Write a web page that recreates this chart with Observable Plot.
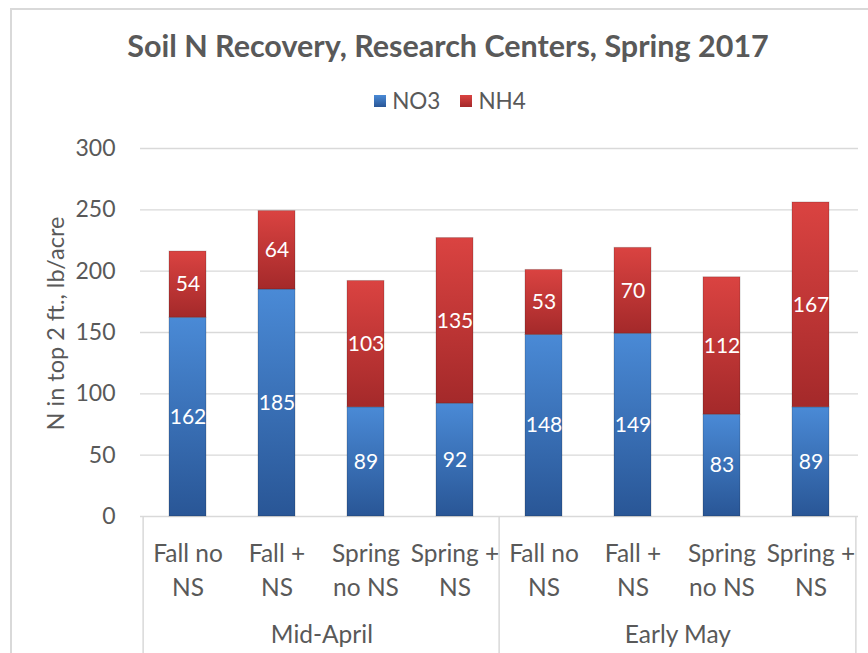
<!DOCTYPE html>
<html>
<head>
<meta charset="utf-8">
<script src="https://cdn.jsdelivr.net/npm/d3@7"></script>
<script src="https://cdn.jsdelivr.net/npm/@observablehq/plot@0.6"></script>
<style>
  html, body { margin: 0; padding: 0; background: #fff; }
  body { width: 868px; height: 653px; position: relative; overflow: hidden; font-family: Lato, "Open Sans", sans-serif; color: #595959; }
  #frame { position: absolute; left: 10px; top: 8px; width: 900px; height: 700px; border-left: 2px solid #d9d9d9; border-top: 2px solid #d9d9d9; box-sizing: border-box; pointer-events: none; }
  #title { position: absolute; left: 0; width: 896px; top: 26px; text-align: center; font-weight: bold; font-size: 30.5px; line-height: 38px; }
  #legend { position: absolute; left: 0; width: 900px; top: 88px; display: flex; justify-content: center; align-items: center; font-size: 22.5px; line-height: 26px; }
  #legend .sw { width: 12px; height: 12px; display: inline-block; margin-right: 6px; }
  #legend .item { display: flex; align-items: center; margin: 0 10px; }
  #chart { position: absolute; left: 0; top: 120px; }
</style>
</head>
<body>
<div id="frame"></div>
<div id="title">Soil N Recovery, Research Centers, Spring 2017</div>
<div id="legend"></div>
<div id="chart"></div>
<script>
// ---- data ----
const groups = ["Mid-April", "Early May"];
const categories = ["Fall no NS", "Fall + NS", "Spring no NS", "Spring + NS"];
const categoryLabels = ["Fall no\nNS", "Fall +\nNS", "Spring\nno NS", "Spring +\nNS"];
const series = ["NO3", "NH4"];
const no3 = [162, 185, 89, 92, 148, 149, 83, 89];
const nh4 = [54, 64, 103, 135, 53, 70, 112, 167];
const yTicks = [0, 50, 100, 150, 200, 250, 300];
const yLabel = "N in top 2 ft., lb/acre";
const seriesColors = { NO3: ["#4a8ad6", "#295696"], NH4: ["#da4341", "#a4292a"] };

// ---- build table ----
const keys = [];
groups.forEach(g => categories.forEach(c => keys.push(g + "|" + c)));
const rows = [];
keys.forEach((k, i) => {
  rows.push({ key: k, series: "NO3", value: no3[i] });
  rows.push({ key: k, series: "NH4", value: nh4[i] });
});
const catRows = keys.map((k, i) => ({ key: k, label: categoryLabels[i % categories.length] }));
const groupMid = groups.map((g, gi) => ({ key: keys[gi * categories.length + 1], label: g }));
const groupStarts = groups.map((g, gi) => ({ key: keys[gi * categories.length] }));
const groupEnd = [{ key: keys[keys.length - 1] }];

// ---- layout ----
const W = 868, H = 533;
const mL = 140, mR = 10, mT = 28, mB = 137;
const step = (W - mL - mR) / keys.length;
const plotH = H - mT - mB;
const yBottom = -mB * 300 / plotH;
const font = "Lato, 'Open Sans', sans-serif";
const txt = "#595959";

const chart = Plot.plot({
  width: W, height: H,
  marginLeft: mL, marginRight: mR, marginTop: mT, marginBottom: mB,
  style: { fontFamily: font, fontSize: "23px", color: txt, background: "transparent", overflow: "visible" },
  x: { domain: keys, padding: 0, axis: null },
  y: { domain: [0, 300], ticks: yTicks, tickSize: 0, tickPadding: 25, label: null },
  color: { domain: series, range: series.map(s => `url(#grad-${s})`) },
  marks: [
    Plot.ruleY(yTicks, { stroke: "#d9d9d9", strokeWidth: 1.3 }),
    Plot.barY(rows, Plot.stackY({ x: "key", y: "value", fill: "series", insetLeft: 26, insetRight: 26, stroke: "#000", strokeOpacity: 0.18, strokeWidth: 1 })),
    Plot.text(rows, Plot.stackY({ x: "key", y: "value", text: "value", fill: "white", fontSize: 21 })),
    Plot.ruleX(groupStarts, { x: "key", dx: -step / 2, y1: 0, y2: yBottom, stroke: "#d9d9d9", strokeWidth: 1.5 }),
    Plot.ruleX(groupEnd, { x: "key", dx: step / 2, y1: 0, y2: yBottom, stroke: "#d9d9d9", strokeWidth: 1.5 }),
    Plot.text(catRows, { x: "key", text: "label", frameAnchor: "bottom", lineAnchor: "middle", dy: 51.5, lineHeight: 1.38, fontSize: 24.5, fill: txt }),
    Plot.text(groupMid, { x: "key", text: "label", frameAnchor: "bottom", lineAnchor: "middle", dy: 119, dx: step / 2, fontSize: 24.5, fill: txt }),
    Plot.text([yLabel], { text: d => d, frameAnchor: "left", textAnchor: "middle", lineAnchor: "middle", rotate: -90, dx: -84, dy: -9, fontSize: 23.5, fill: txt })
  ]
});
document.getElementById("chart").appendChild(chart);

// gradients
const svg = d3.select(chart);
const defs = svg.insert("defs", ":first-child");
series.forEach(s => {
  const g = defs.append("linearGradient").attr("id", `grad-${s}`).attr("x1", 0).attr("y1", 0).attr("x2", 0).attr("y2", 1);
  g.append("stop").attr("offset", "0%").attr("stop-color", seriesColors[s][0]);
  g.append("stop").attr("offset", "100%").attr("stop-color", seriesColors[s][1]);
});

// legend
const leg = d3.select("#legend");
series.forEach(s => {
  const it = leg.append("div").attr("class", "item");
  it.append("span").attr("class", "sw").style("background", `linear-gradient(${seriesColors[s][0]}, ${seriesColors[s][1]})`);
  it.append("span").text(s);
});
</script>
</body>
</html>
